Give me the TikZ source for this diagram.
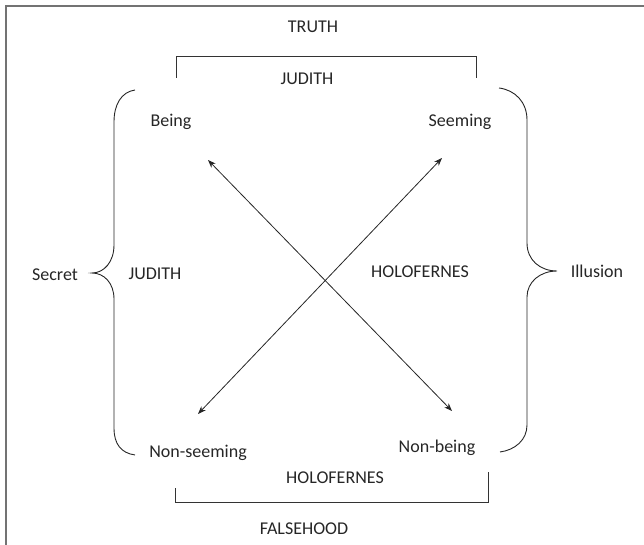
\documentclass[tikz,border=0pt]{standalone}
\usepackage{fontspec}
\setmainfont{Carlito}
\usetikzlibrary{arrows.meta}

\begin{document}
\begin{tikzpicture}[
  x=1pt, y=-1pt,
  lbl/.style={anchor=base, inner sep=0pt, text=black!85, font=\fontsize{18}{21}\selectfont},
  frame/.style={draw=black!55, line width=1.3pt},
  bracket/.style={draw=black!80, line width=0.9pt},
  brace/.style={draw=black!85, line width=0.9pt},
  biarr/.style={{Stealth[length=8pt, width=6pt]}-{Stealth[length=8pt, width=6pt]}, line width=0.8pt, black!85}
]
\useasboundingbox (0,0) rectangle (644,545);

\draw[frame] (6,545) -- (6,6) -- (644,6);

\node[lbl] (truth)      at (313, 33)  {TRUTH};
\node[lbl] (judithtop)  at (307, 85)  {JUDITH};
\node[lbl] (being)      at (171, 127) {Being};
\node[lbl] (seeming)    at (460, 127) {Seeming};
\node[lbl] (secret)     at (55, 280)  {Secret};
\node[lbl] (judithleft) at (155, 279) {JUDITH};
\node[lbl] (holoright)  at (420, 277) {HOLOFERNES};
\node[lbl] (illusion)   at (597, 277) {Illusion};
\node[lbl] (nonseeming) at (198, 457) {Non-seeming};
\node[lbl] (nonbeing)   at (437, 452) {Non-being};
\node[lbl] (holobottom) at (335, 483) {HOLOFERNES};
\node[lbl] (falsehood)  at (304, 534) {FALSEHOOD};

\coordinate (tipbeing)      at (208, 160);
\coordinate (tipnonbeing)   at (452, 411);
\coordinate (tipseeming)    at (442, 158);
\coordinate (tipnonseeming) at (198, 414);

\draw[biarr] (tipbeing) -- (tipnonbeing);
\draw[biarr] (tipseeming) -- (tipnonseeming);

\draw[bracket] (176, 78) -- (176, 56) -- (476, 56) -- (476, 78);
\draw[bracket] (175, 488) -- (175, 502) -- (488, 502) -- (488, 472);

\draw[brace] (135, 90) .. controls (121, 92) and (114, 105) .. (114, 122)
  -- (114, 245) .. controls (114, 262) and (104, 273) .. (92, 273)
  .. controls (104, 273) and (114, 283) .. (114, 299)
  -- (114, 428) .. controls (114, 444) and (121, 453) .. (135, 455);
\draw[brace] (499, 88) .. controls (515, 90) and (527, 102) .. (527, 120)
  -- (527, 243) .. controls (527, 260) and (540, 271) .. (557, 271)
  .. controls (540, 271) and (527, 282) .. (527, 297)
  -- (527, 425) .. controls (527, 440) and (515, 450) .. (500, 452);

\end{tikzpicture}
\end{document}
